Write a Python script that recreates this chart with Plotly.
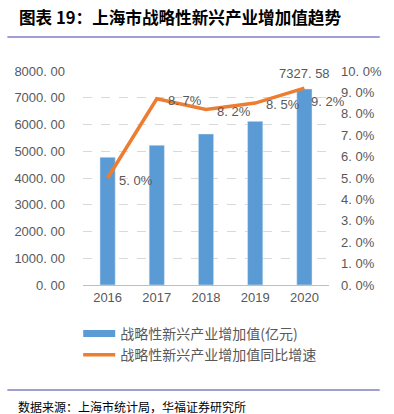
import plotly.graph_objects as go

years = ["2016", "2017", "2018", "2019", "2020"]
value_added = [4776, 5224, 5646, 6119, 7327.58]   # 亿元
growth = [5.0, 8.7, 8.2, 8.5, 9.2]                 # %
left_ticks = [0, 1000, 2000, 3000, 4000, 5000, 6000, 7000, 8000]
left_ticktext = ["0. 00", "1000. 00", "2000. 00", "3000. 00", "4000. 00",
                 "5000. 00", "6000. 00", "7000. 00", "8000. 00"]
right_ticks = [0, 1, 2, 3, 4, 5, 6, 7, 8, 9, 10]
right_ticktext = ["0. 0%", "1. 0%", "2. 0%", "3. 0%", "4. 0%", "5. 0%",
                  "6. 0%", "7. 0%", "8. 0%", "9. 0%", "10. 0%"]
growth_labels = ["5. 0%", "8. 7%", "8. 2%", "8. 5%", "9. 2%"]
last_bar_label = "7327. 58"
bar_name = "战略性新兴产业增加值(亿元)"
line_name = "战略性新兴产业增加值同比增速"
title_text = "图表 19：上海市战略性新兴产业增加值趋势"
source_text = "数据来源：上海市统计局，华福证券研究所"

BLUE = "#5B9BD5"
ORANGE = "#ED7D31"
GRAY = "#595959"
FONT = "Noto Sans CJK SC"
NUMFONT = "Liberation Sans"

L, R, T, B = 83, 54, 71, 129
W, H = 394, 414
pw, ph = W - L - R, H - T - B

def px(x):
    return (x - L) / pw

def py(y):
    return (H - B - y) / ph

fig = go.Figure()
fig.add_trace(go.Bar(x=years, y=value_added, marker_color=BLUE, width=0.31,
                     showlegend=False, yaxis="y", hoverinfo="skip"))
# legend proxy for bars (wide rectangle look)
fig.add_trace(go.Scatter(x=[None], y=[None], mode="lines", name=bar_name,
                         line=dict(color=BLUE, width=7), yaxis="y"))
fig.add_trace(go.Scatter(x=years, y=growth, mode="lines", name=line_name,
                         line=dict(color=ORANGE, width=3.5), yaxis="y2",
                         hoverinfo="skip"))

annotations = []
offsets = [(28, -2), (28, -2), (28, -2), (28, -1), (24, -13)]
for i, (g, lab, (dx, dy)) in enumerate(zip(growth, growth_labels, offsets)):
    annotations.append(dict(x=i, y=g, xref="x", yref="y2", text=lab,
                            showarrow=False, xshift=dx, yshift=dy,
                            font=dict(family=NUMFONT, size=13, color=GRAY)))
annotations.append(dict(x=len(years) - 1, y=value_added[-1], xref="x", yref="y",
                        text=last_bar_label, showarrow=False, yshift=15.5,
                        font=dict(family=NUMFONT, size=13, color=GRAY)))
annotations.append(dict(x=px(14), y=py(17), xref="paper", yref="paper",
                        text="<b>" + title_text + "</b>", showarrow=False,
                        xanchor="left", yanchor="middle",
                        font=dict(family=FONT, size=16.6, color="#000000")))
annotations.append(dict(x=px(13), y=py(406), xref="paper", yref="paper",
                        text=source_text, showarrow=False,
                        xanchor="left", yanchor="middle",
                        font=dict(family=FONT, size=12, color="#000000")))

shapes = [
    dict(type="line", xref="paper", yref="paper", x0=px(4), x1=px(393),
         y0=py(37), y1=py(37), line=dict(color="#7f7fc8", width=1.5),
         layer="above"),
    dict(type="line", xref="paper", yref="paper", x0=px(4), x1=px(393),
         y0=py(390), y1=py(390), line=dict(color="#7f7fc8", width=1.5),
         layer="above"),
]

fig.update_layout(
    width=W, height=H,
    margin=dict(l=L, r=R, t=T, b=B, pad=0),
    paper_bgcolor="white", plot_bgcolor="white",
    font=dict(family=NUMFONT, size=13, color=GRAY),
    hovermode=False,
    xaxis=dict(type="category", range=[-0.5, 4.5], showgrid=False,
               showline=True, linecolor="#bfbfbf", linewidth=1, ticks="",
               tickfont=dict(family=NUMFONT, size=13, color=GRAY),
               fixedrange=True),
    yaxis=dict(range=[0, 8000], tickvals=left_ticks, ticktext=left_ticktext,
               showgrid=True, gridcolor="#d9d9d9", griddash="dash",
               gridwidth=1, zeroline=False, ticks="", ticklabelstandoff=17,
               tickfont=dict(family=NUMFONT, size=13, color=GRAY),
               fixedrange=True),
    yaxis2=dict(range=[0, 10], tickvals=right_ticks, ticktext=right_ticktext,
                overlaying="y", side="right", showgrid=False, zeroline=False,
                ticks="", ticklabelstandoff=11,
                tickfont=dict(family=NUMFONT, size=13, color=GRAY),
                fixedrange=True),
    legend=dict(orientation="v", x=px(78), y=py(318), xanchor="left",
                yanchor="top", itemwidth=32,
                font=dict(family=FONT, size=14, color=GRAY),
                bgcolor="rgba(0,0,0,0)"),
    annotations=annotations, shapes=shapes,
)

fig.write_html("out.html", config={"displayModeBar": False},
               post_script="document.body.style.margin='0';document.body.style.padding='0';")
